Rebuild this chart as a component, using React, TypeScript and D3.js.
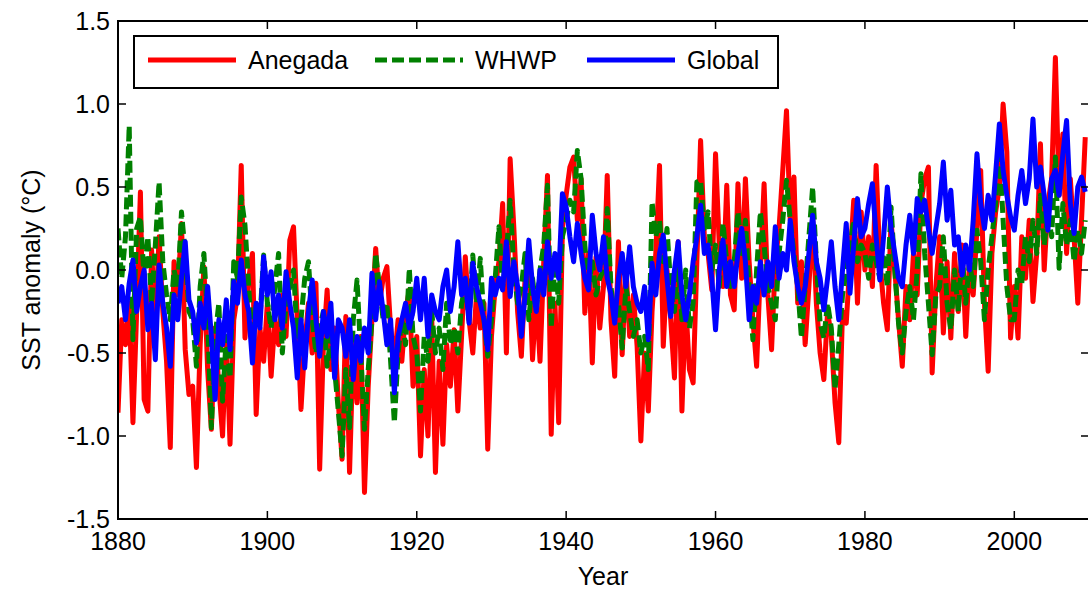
import React, { useEffect, useRef } from 'react';
import * as d3 from 'd3';

// half-year samples, starting 1880.0
const START_YEAR = 1880;
const STEP = 0.5;

const anegada = [
  -0.86, -0.30, -0.45, -0.20, -0.92, -0.25, 0.47, -0.78, -0.85, 0.12, -0.35, 0.20, -0.25, -0.55, -1.07, 0.05, -0.15, 0.28, -0.48, -0.75,
  -0.70, -1.19, -0.45, 0.02, -0.60, -0.96, -0.35, -0.70, -1.00, -0.40, -1.05, -0.30, -0.15, 0.63, -0.41, -0.05, 0.10, -0.87, -0.35, -0.55,
  -0.20, -0.64, -0.30, -0.45, -0.15, -0.40, 0.18, 0.26, -0.30, -0.84, -0.45, -0.20, -0.50, -0.08, -1.20, -0.45, -0.12, -0.60, -0.35, -0.80,
  -1.14, -0.28, -1.22, -0.45, -0.80, -0.40, -1.34, -0.70, -0.30, 0.13, -0.20, -0.05, 0.02, -0.35, -0.55, -0.30, -0.55, -0.25, -0.12, -0.70,
  -0.40, -1.12, -0.60, -1.00, -0.28, -1.22, -0.55, -1.05, -0.45, -0.70, -0.36, -0.85, -0.40, 0.08, -0.30, -0.50, -0.15, -0.35, -0.20, -1.08,
  -0.40, -0.10, 0.05, 0.40, -0.50, 0.67, 0.25, -0.25, -0.52, -0.05, 0.04, -0.54, -0.15, -0.55, 0.05, 0.57, -0.99, -0.20, -0.92, 0.25,
  0.45, 0.62, 0.68, 0.30, 0.55, -0.26, 0.10, -0.56, 0.08, -0.35, -0.10, 0.57, -0.30, -0.64, 0.17, -0.51, 0.02, -0.40, -0.15, -0.46,
  -1.03, -0.50, -0.85, -0.25, 0.10, 0.63, -0.46, 0.00, -0.30, -0.65, 0.17, -0.85, -0.20, -0.60, -0.68, 0.05, 0.78, 0.20, 0.10, -0.12,
  0.70, 0.15, -0.10, 0.51, -0.15, -0.24, 0.52, -0.05, 0.55, 0.05, -0.30, -0.58, 0.00, 0.52, -0.15, -0.48, 0.05, 0.25, 0.60, 0.96,
  0.30, 0.56, -0.20, 0.05, -0.45, -0.10, 0.32, -0.20, -0.50, -0.66, -0.25, -0.40, -0.80, -1.04, -0.25, -0.32, 0.05, 0.42, -0.20, 0.35,
  0.00, 0.20, -0.10, 0.63, 0.05, -0.20, -0.36, 0.30, 0.00, -0.30, -0.58, -0.10, -0.30, 0.10, -0.15, 0.40, 0.55, 0.62, -0.62, -0.10,
  0.20, -0.38, 0.05, -0.41, 0.10, -0.25, 0.15, -0.40, 0.05, -0.15, 0.25, 0.60, -0.20, -0.61, 0.10, 0.35, 0.50, 1.00, 0.71, -0.41,
  -0.10, -0.41, 0.20, -0.05, 0.30, -0.19, 0.10, 0.76, 0.00, 0.40, 0.55, 1.28, 0.45, 0.82, 0.10, 0.55, 0.20, -0.20, 0.30, 0.80,
];

const whwp = [
  0.25, -0.05, 0.20, 0.87, -0.42, 0.25, 0.32, -0.05, 0.20, -0.20, 0.15, 0.53, 0.05, -0.15, -0.30, 0.00, -0.10, 0.35, 0.10, -0.25,
  -0.30, -0.58, -0.10, 0.10, -0.30, -0.95, -0.40, -0.20, -0.79, -0.40, -0.65, 0.05, -0.05, 0.44, 0.27, -0.10, -0.46, -0.20, -0.30, 0.09,
  -0.20, -0.35, -0.10, 0.10, -0.50, -0.20, -0.10, 0.00, -0.40, -0.30, -0.05, 0.05, -0.30, -0.50, -0.35, -0.25, -0.58, -0.40, -0.60, -0.85,
  -1.12, -0.60, -0.95, -0.30, -0.06, -0.50, -0.96, -0.60, -0.30, 0.10, -0.10, -0.30, -0.20, -0.55, -0.92, -0.50, -0.30, -0.45, 0.01, -0.40,
  -0.50, -0.85, -0.40, -0.55, -0.25, -0.50, -0.35, -0.60, -0.20, -0.45, -0.35, -0.50, -0.20, -0.10, -0.30, 0.09, -0.20, 0.07, -0.30, -0.52,
  -0.30, -0.05, 0.26, -0.10, 0.10, 0.42, 0.00, -0.20, -0.10, 0.10, -0.30, -0.05, -0.25, 0.00, 0.15, 0.51, -0.35, 0.05, -0.20, 0.20,
  0.30, 0.42, 0.35, 0.72, 0.55, 0.15, -0.10, 0.05, -0.15, -0.05, 0.00, 0.37, -0.10, -0.30, -0.20, -0.47, -0.10, -0.25, -0.40, -0.30,
  -0.50, -0.40, -0.60, 0.41, 0.20, 0.30, 0.05, 0.25, -0.10, -0.25, 0.05, -0.30, 0.00, -0.35, -0.20, 0.53, 0.54, 0.25, 0.35, 0.00,
  0.15, -0.10, 0.28, 0.05, -0.10, 0.05, 0.35, 0.10, 0.30, -0.10, -0.42, 0.00, 0.35, 0.15, -0.10, -0.20, -0.30, 0.10, 0.30, 0.54,
  0.30, 0.10, -0.10, -0.41, -0.10, 0.20, 0.50, 0.05, -0.32, -0.41, -0.20, -0.35, -0.72, -0.45, -0.15, 0.00, 0.15, 0.30, 0.05, 0.15,
  0.10, -0.05, 0.15, 0.05, -0.05, 0.10, -0.10, 0.38, 0.00, -0.32, -0.50, -0.25, -0.10, -0.30, 0.00, 0.58, 0.10, -0.20, -0.51, -0.15,
  -0.10, 0.20, -0.20, -0.36, 0.00, -0.25, 0.10, -0.20, 0.05, -0.10, 0.24, 0.05, -0.30, 0.00, 0.20, 0.40, 0.74, 0.30, -0.10, -0.30,
  -0.30, 0.00, -0.08, 0.20, 0.05, 0.30, 0.10, 0.45, 0.15, 0.35, 0.20, 0.68, 0.01, 0.40, 0.15, 0.30, 0.05, 0.24, 0.10, 0.30,
];

const globalSst = [
  -0.20, -0.10, -0.30, -0.08, 0.06, -0.25, -0.10, 0.00, -0.36, -0.20, -0.54, 0.03, -0.20, -0.35, -0.58, -0.15, -0.30, -0.05, 0.17, -0.18,
  -0.25, -0.44, -0.20, -0.35, -0.10, -0.40, -0.78, -0.30, -0.45, -0.18, -0.48, -0.07, -0.20, 0.06, -0.15, -0.25, -0.56, -0.20, -0.35, 0.08,
  -0.15, -0.01, -0.30, -0.15, -0.35, -0.01, -0.20, -0.35, -0.65, -0.30, -0.59, -0.25, -0.06, -0.30, -0.52, -0.25, -0.40, -0.20, -0.65, -0.30,
  -0.35, -0.52, -0.30, -0.66, -0.40, -0.55, -0.35, -0.50, -0.02, -0.30, -0.07, -0.25, -0.45, -0.30, -0.74, -0.40, -0.30, -0.20, -0.35, -0.25,
  -0.05, -0.30, -0.05, -0.40, -0.15, -0.25, -0.30, -0.10, 0.00, -0.25, -0.10, 0.17, -0.15, -0.05, -0.32, 0.04, -0.10, -0.20, -0.30, -0.48,
  -0.05, -0.15, -0.05, -0.12, 0.17, -0.16, 0.05, -0.10, -0.40, -0.15, 0.18, -0.10, -0.25, 0.00, -0.15, 0.17, -0.05, 0.10, -0.05, 0.46,
  0.38, 0.20, 0.05, 0.28, 0.10, -0.05, -0.12, 0.33, 0.10, 0.00, 0.20, -0.05, -0.15, -0.32, -0.05, 0.10, -0.10, 0.14, -0.10, -0.20,
  -0.25, -0.10, -0.42, 0.04, -0.15, 0.10, 0.21, -0.05, -0.28, 0.00, 0.17, -0.15, -0.30, -0.15, 0.05, 0.20, 0.39, 0.10, 0.15, -0.05,
  -0.36, 0.00, 0.18, -0.10, 0.05, -0.10, 0.10, 0.25, 0.05, -0.30, -0.10, -0.20, 0.05, -0.15, 0.05, -0.10, 0.26, -0.05, 0.10, 0.00,
  0.30, 0.05, -0.10, -0.20, -0.10, 0.10, 0.33, 0.05, -0.05, -0.24, -0.05, 0.17, -0.10, -0.30, 0.00, 0.28, -0.14, 0.15, 0.43, 0.20,
  0.25, 0.40, 0.52, 0.20, -0.06, 0.20, 0.50, 0.25, 0.10, -0.05, -0.10, 0.15, 0.33, 0.10, 0.43, 0.35, 0.42, 0.25, 0.10, 0.25,
  0.40, 0.65, 0.30, 0.48, 0.15, 0.20, -0.03, 0.15, 0.00, 0.30, 0.70, 0.40, 0.25, 0.45, 0.30, 0.58, 0.88, 0.60, 0.45, 0.32,
  0.24, 0.45, 0.60, 0.40, 0.55, 0.91, 0.50, 0.62, 0.45, 0.24, 0.55, 0.60, 0.45, 0.70, 0.90, 0.40, 0.22, 0.50, 0.56, 0.47,
];

const seriesNames = ['Anegada', 'WHWP', 'Global'];
const seriesColors = ['#ff0000', '#008000', '#0000ff'];
const xTicks = [1880, 1900, 1920, 1940, 1960, 1980, 2000];
const yTicks = [-1.5, -1.0, -0.5, 0.0, 0.5, 1.0, 1.5];

const FONT = '"Liberation Sans", Arial, Helvetica, sans-serif';

function App() {
  const svgRef = useRef<SVGSVGElement>(null);

  useEffect(() => {
    const width = 1088;
    const height = 594;
    const margin = { top: 21, right: -1, bottom: 75, left: 118 };

    const svg = d3.select(svgRef.current);
    svg.selectAll('*').remove();
    svg.attr('width', width).attr('height', height);

    const x = d3.scaleLinear().domain([1880, 2010]).range([margin.left, width - margin.right]);
    const y = d3.scaleLinear().domain([-1.5, 1.5]).range([height - margin.bottom, margin.top]);

    svg.append('defs').append('clipPath').attr('id', 'plot-clip')
      .append('rect')
      .attr('x', x(1880)).attr('y', y(1.5))
      .attr('width', x(2010) - x(1880)).attr('height', y(-1.5) - y(1.5));

    const line = d3.line<number>()
      .x((d, i) => x(START_YEAR + i * STEP))
      .y(d => y(d));

    const lines = svg.append('g').attr('clip-path', 'url(#plot-clip)');
    [anegada, whwp, globalSst].forEach((vals, k) => {
      lines.append('path')
        .datum(vals)
        .attr('d', line)
        .attr('fill', 'none')
        .attr('stroke', seriesColors[k])
        .attr('stroke-width', 5)
        .attr('stroke-linejoin', 'round')
        .attr('stroke-dasharray', k === 1 ? '12,5' : null);
    });

    // frame + inward ticks on all sides
    const axes = svg.append('g').attr('stroke', '#000');
    axes.append('rect')
      .attr('x', x(1880)).attr('y', y(1.5))
      .attr('width', x(2010) - x(1880)).attr('height', y(-1.5) - y(1.5))
      .attr('fill', 'none').attr('stroke-width', 2);
    const tl = 8;
    xTicks.forEach(t => {
      axes.append('line').attr('x1', x(t)).attr('x2', x(t)).attr('y1', y(-1.5)).attr('y2', y(-1.5) - tl).attr('stroke-width', 1.5);
      axes.append('line').attr('x1', x(t)).attr('x2', x(t)).attr('y1', y(1.5)).attr('y2', y(1.5) + tl).attr('stroke-width', 1.5);
    });
    yTicks.forEach(t => {
      axes.append('line').attr('x1', x(1880)).attr('x2', x(1880) + tl).attr('y1', y(t)).attr('y2', y(t)).attr('stroke-width', 1.5);
      axes.append('line').attr('x1', x(2010)).attr('x2', x(2010) - tl).attr('y1', y(t)).attr('y2', y(t)).attr('stroke-width', 1.5);
    });

    const labels = svg.append('g').attr('font-family', FONT).attr('font-size', 25).attr('fill', '#000');
    xTicks.forEach(t => {
      labels.append('text').attr('x', x(t)).attr('y', y(-1.5) + 31)
        .attr('text-anchor', 'middle').text(String(t));
    });
    yTicks.forEach(t => {
      labels.append('text').attr('x', x(1880) - 8).attr('y', y(t)).attr('dy', '0.36em')
        .attr('text-anchor', 'end').text(t.toFixed(1));
    });
    labels.append('text').attr('x', 603).attr('y', 585).attr('text-anchor', 'middle').text('Year');
    labels.append('text')
      .attr('transform', `translate(40,${y(0)}) rotate(-90)`)
      .attr('text-anchor', 'middle')
      .text('SST anomaly (°C)');

    // legend
    const legend = svg.append('g');
    legend.append('rect')
      .attr('x', 134).attr('y', 36).attr('width', 644).attr('height', 52)
      .attr('fill', '#fff').attr('stroke', '#000').attr('stroke-width', 2);
    const legendX = [148, 375, 587];
    seriesNames.forEach((name, k) => {
      legend.append('line')
        .attr('x1', legendX[k]).attr('x2', legendX[k] + 88)
        .attr('y1', 60).attr('y2', 60)
        .attr('stroke', seriesColors[k]).attr('stroke-width', 5)
        .attr('stroke-dasharray', k === 1 ? '12,5' : null);
      legend.append('text')
        .attr('x', legendX[k] + 100).attr('y', 60).attr('dy', '0.36em')
        .attr('font-family', FONT).attr('font-size', 25)
        .text(name);
    });
  }, []);

  return (
    <div style={{ position: 'absolute', left: 0, top: 0 }}>
      <svg ref={svgRef}></svg>
    </div>
  );
}

export default App;
